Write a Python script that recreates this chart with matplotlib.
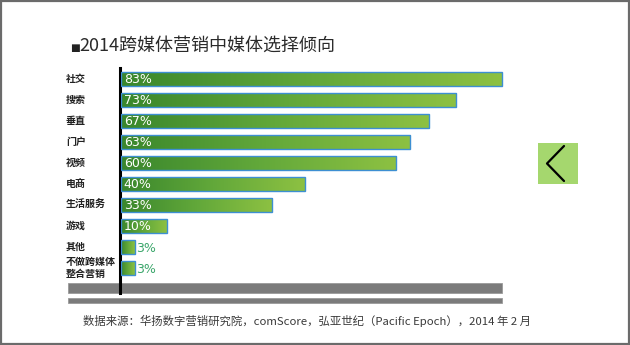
import matplotlib.pyplot as plt
import numpy as np
from matplotlib.colors import LinearSegmentedColormap
from matplotlib.patches import Rectangle

plt.rcParams['font.family'] = ['Noto Sans CJK SC', 'DejaVu Sans']

# data
categories = ['社交', '搜索', '垂直', '门户', '视频', '电商', '生活服务', '游戏', '其他', '不做跨媒体\n整合营销']
values = [83, 73, 67, 63, 60, 40, 33, 10, 3, 3]
title = '2014跨媒体营销中媒体选择倾向'
source = '数据来源：华扬数字营销研究院，comScore，弘亚世纪（Pacific Epoch），2014 年 2 月'

W, H = 630, 345
fig = plt.figure(figsize=(W / 100, H / 100), dpi=100)

# background axes in pixel coordinates for the decorations
bg = fig.add_axes([0, 0, 1, 1])
bg.set_xlim(0, W)
bg.set_ylim(H, 0)
bg.axis('off')

# frame
bg.add_patch(Rectangle((1, 1), W - 2, H - 2, fill=False, edgecolor='#6b6b6b', linewidth=1.6))

# gray bands under the chart
bg.add_patch(Rectangle((68, 283), 434, 10, facecolor='#7b7b7b', edgecolor='#9a9a9a', linewidth=0.6))
bg.add_patch(Rectangle((68, 297.5), 434, 5, facecolor='#7b7b7b', edgecolor='#9a9a9a', linewidth=0.6))

# title
bg.text(70, 48, '■', fontsize=7.5, color='#222222', va='center', ha='left', family='DejaVu Sans')
bg.text(79, 46, title, fontsize=13, color='#2a2a2a', va='center', ha='left')

# source line
bg.text(83, 321, source, fontsize=8.2, color='#3a3a3a', va='center', ha='left')

# green nav button with chevron
bg.add_patch(Rectangle((538, 143), 40, 41, facecolor='#a5d76e', edgecolor='none'))
bg.plot([564, 547, 564], [146, 163.5, 181], color='black', linewidth=1.6, solid_capstyle='round')

# bar axes
px_per_unit = (502 - 121) / 83
ax_left, ax_width = 121, 100 * px_per_unit
row0, step = 79, 21
ax_top, ax_bot = 68, 293
ax = fig.add_axes([ax_left / W, 1 - ax_bot / H, ax_width / W, (ax_bot - ax_top) / H])
ax.patch.set_alpha(0)

cmap = LinearSegmentedColormap.from_list('g', ['#3a872c', '#62a83a', '#8dc142'])
grad = np.linspace(0, 1, 256).reshape(1, -1)
bh = 0.66
y = np.arange(len(categories))
bars = ax.barh(y, values, height=bh, color='none', edgecolor='#3d8fd2', linewidth=1.0, zorder=3)
for b, v, yi in zip(bars, values, y):
    im = ax.imshow(grad, cmap=cmap, aspect='auto', extent=(0, v, yi + bh / 2, yi - bh / 2), zorder=2)
    im.set_clip_path(b)
    if v >= 10:
        ax.text(0.6, yi + 0.03, f'{v}%', color='white', fontsize=9, va='center', ha='left',
                family='DejaVu Sans', zorder=4)
    else:
        ax.text(v + 0.3, yi + 0.08, f'{v}%', color='#3aa66a', fontsize=9, va='center', ha='left',
                family='DejaVu Sans', zorder=4)

ax.set_xlim(0, 100)
ax.set_ylim((ax_bot - row0) / step, (ax_top - row0) / step)
ax.set_xticks([])
ax.set_yticks([])
for s in ['top', 'right', 'bottom']:
    ax.spines[s].set_visible(False)
ax.spines['left'].set_linewidth(2.2)
ax.spines['left'].set_color('black')
ax.spines['left'].set_position(('data', -0.3))

# category labels
for c, yi in zip(categories, y):
    bg.text(66, row0 + step * yi, c, fontsize=7.2, fontweight='bold', color='#222222',
            va='center', ha='left', linespacing=1.25)

fig.savefig('out.png', dpi=100)
